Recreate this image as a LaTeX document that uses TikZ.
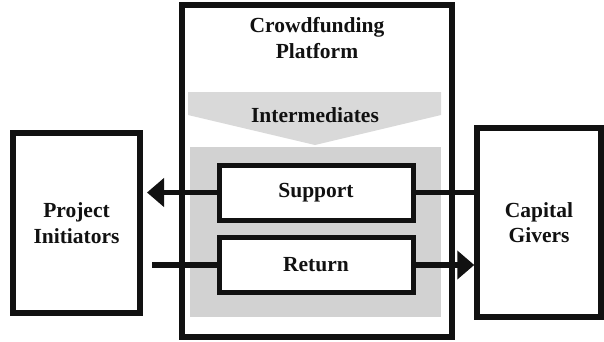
\documentclass[tikz,border=0pt]{standalone}
\usepackage{fontspec}
\setmainfont{Liberation Serif}
\usetikzlibrary{arrows.meta}
\definecolor{inkc}{HTML}{111111}
\definecolor{lightg}{HTML}{D9D9D9}
\definecolor{midg}{HTML}{D2D2D2}
\tikzset{
  x=1pt,y=-1pt,
  txt/.style={font=\fontsize{21.5}{25.5}\selectfont\bfseries, text=inkc, align=center},
  bigbox/.style={draw=inkc, line width=5.5pt, fill=white, inner sep=0pt},
  flowbox/.style={draw=inkc, line width=5pt, fill=white, inner sep=0pt, minimum width=194pt, minimum height=55pt, txt},
  flow/.style={draw=inkc, line width=5.5pt},
  flowarrow/.style={flow, -{Triangle[length=17pt,width=28pt]}},
}
\begin{document}
\begin{tikzpicture}
\useasboundingbox (0,0) rectangle (604,341);
% platform
\node[bigbox, minimum width=270pt, minimum height=332pt] (plat) at (317,171) {};
\node[txt] (title) at (317,38) {Crowdfunding\\Platform};
% intermediates chevron
\fill[lightg] (188,92) -- (441,92) -- (441,115) -- (315,145) -- (188,115) -- cycle;
\node[txt] (inter) at (315,115) {Intermediates};
\fill[midg] (190,147) rectangle (441,317);
% side boxes
\node[bigbox, minimum width=127pt, minimum height=180pt, txt] (pi) at (76.5,223) {Project\\Initiators};
\node[bigbox, minimum width=124pt, minimum height=189pt, txt] (cg) at (539,222.5) {Capital\\Givers};
% flow boxes
\node[flowbox] (sup) at (316,192.5) {Support};
\node[flowbox] (ret) at (316,265) {Return};
% connectors
\coordinate (piS) at (147,192.5);
\coordinate (piR) at (152,265);
\draw[flowarrow] (sup.west) -- (piS);
\draw[flow] (sup.east) -- (sup.east -| cg.west);
\draw[flow] (piR) -- (ret.west);
\draw[flowarrow] (ret.east) -- (ret.east -| cg.west);
\end{tikzpicture}
\end{document}
